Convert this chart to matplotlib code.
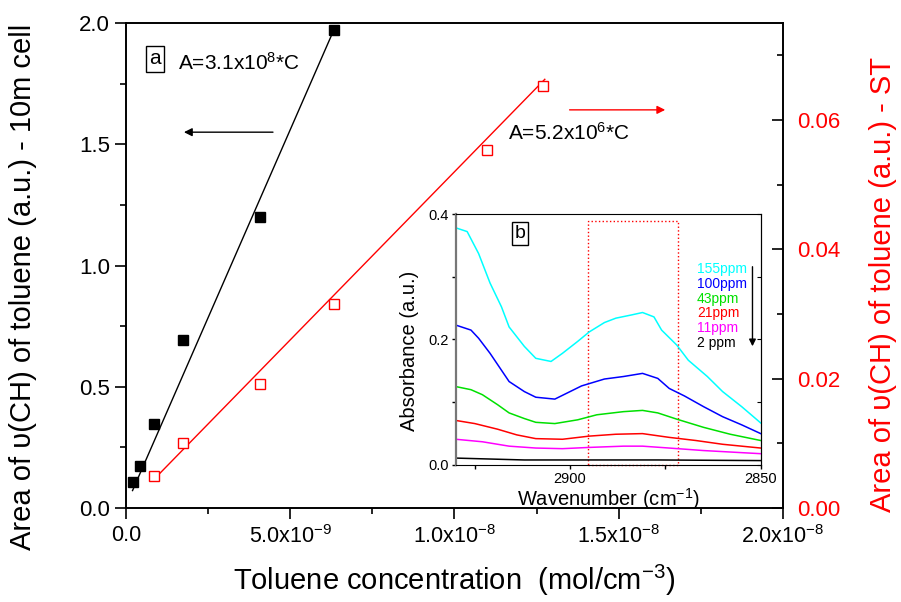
import numpy as np
import matplotlib
matplotlib.use("Agg")
import matplotlib.pyplot as plt
from matplotlib.patches import Rectangle
from matplotlib.ticker import MultipleLocator

plt.rcParams['font.family'] = ['Liberation Sans', 'DejaVu Sans']
plt.rcParams['mathtext.default'] = 'regular'

# --- main plot data (concentration in mol/cm^3) ---
conc_cell = [0.21e-9, 0.44e-9, 0.84e-9, 1.74e-9, 4.07e-9, 6.33e-9]
area_cell = [0.107, 0.173, 0.345, 0.693, 1.20, 1.97]

conc_st = [0.84e-9, 1.74e-9, 4.07e-9, 6.33e-9, 11.0e-9, 12.69e-9]
area_st = [0.0050, 0.0100, 0.0192, 0.0315, 0.0553, 0.0653]

# linear fits
fit_cell_slope, fit_cell_icpt = 3.1e8, 0.01
fit_cell_range = [0.2e-9, 6.35e-9]
fit_st_slope, fit_st_icpt = 5.2e6, 0.0
fit_st_range = [0.84e-9, 12.75e-9]

x_ticks = [0, 5e-9, 1e-8, 1.5e-8, 2e-8]
x_ticklabels = ['0.0', '5.0x10$^{-9}$', '1.0x10$^{-8}$', '1.5x10$^{-8}$', '2.0x10$^{-8}$']

# --- inset spectra (wavenumber cm-1, absorbance) ---
wn_155 = [2930, 2927, 2924, 2921, 2918, 2916, 2912, 2909, 2905, 2902, 2898, 2895, 2891,
          2888, 2884, 2881, 2878, 2876, 2872, 2869, 2864, 2860, 2855, 2850]
ab_155 = [0.378, 0.372, 0.337, 0.290, 0.252, 0.220, 0.189, 0.170, 0.165, 0.178, 0.197, 0.212,
          0.227, 0.234, 0.239, 0.243, 0.236, 0.215, 0.191, 0.167, 0.141, 0.117, 0.093, 0.067]
wn_100 = [2930, 2926, 2924, 2921, 2918, 2916, 2912, 2909, 2904, 2900, 2897, 2891, 2886,
          2881, 2877, 2874, 2870, 2865, 2860, 2855, 2850]
ab_100 = [0.223, 0.215, 0.202, 0.178, 0.151, 0.133, 0.117, 0.108, 0.105, 0.117, 0.126, 0.137,
          0.141, 0.146, 0.138, 0.122, 0.110, 0.093, 0.077, 0.064, 0.050]
wn_43 = [2930, 2926, 2923, 2919, 2916, 2912, 2909, 2904, 2898, 2893, 2886, 2881, 2877,
         2872, 2865, 2858, 2850]
ab_43 = [0.125, 0.120, 0.112, 0.096, 0.083, 0.074, 0.068, 0.066, 0.072, 0.080, 0.085, 0.087,
         0.083, 0.073, 0.060, 0.049, 0.039]
wn_21 = [2930, 2925, 2919, 2914, 2909, 2902, 2895, 2888, 2881, 2874, 2867, 2860, 2850]
ab_21 = [0.071, 0.066, 0.057, 0.048, 0.042, 0.041, 0.046, 0.049, 0.050, 0.044, 0.039, 0.033, 0.027]
wn_11 = [2930, 2923, 2916, 2909, 2902, 2895, 2886, 2881, 2874, 2865, 2850]
ab_11 = [0.041, 0.037, 0.030, 0.027, 0.026, 0.028, 0.030, 0.030, 0.027, 0.023, 0.018]
wn_2 = [2930, 2912, 2895, 2877, 2850]
ab_2 = [0.011, 0.008, 0.008, 0.008, 0.007]

spectra = [(wn_155, ab_155, '155ppm', '#00ffff'),
           (wn_100, ab_100, '100ppm', '#0000ff'),
           (wn_43, ab_43, '43ppm', '#00e000'),
           (wn_21, ab_21, '21ppm', '#ff0000'),
           (wn_11, ab_11, '11ppm', '#ff00ff'),
           (wn_2, ab_2, '2 ppm', '#000000')]

band_lo, band_hi, band_top = 2871.6, 2895.3, 0.389

fig = plt.figure(figsize=(9.01, 6.02), dpi=100)
ax = fig.add_axes([0.1398, 0.1561, 0.7292, 0.8056])
ax2 = ax.twinx()

# black: 10 m cell
fx = np.array(fit_cell_range)
ax.plot(fx, fit_cell_slope * fx + fit_cell_icpt, color='black', lw=1)
ax.plot(conc_cell, area_cell, 's', color='black', ms=6.5, clip_on=False)

# red: ST
fx2 = np.array(fit_st_range)
ax2.plot(fx2, fit_st_slope * fx2 + fit_st_icpt, color='red', lw=1)
ax2.plot(conc_st, area_st, 's', mfc='white', mec='red', mew=1, ms=6.5, clip_on=False)

ax.set_xlim(0, 2e-8)
ax.set_ylim(0, 2.0)
ax2.set_ylim(0, 0.075)

ax.set_xticks(x_ticks)
ax.set_xticklabels(x_ticklabels)
ax.xaxis.set_minor_locator(MultipleLocator(2.5e-9))
ax.yaxis.set_major_locator(MultipleLocator(0.5))
ax.yaxis.set_minor_locator(MultipleLocator(0.25))
ax.yaxis.set_major_formatter(plt.FormatStrFormatter('%.1f'))
ax2.yaxis.set_major_locator(MultipleLocator(0.02))
ax2.yaxis.set_minor_locator(MultipleLocator(0.01))
ax2.yaxis.set_major_formatter(plt.FormatStrFormatter('%.2f'))

ax.tick_params(axis='both', which='major', direction='out', length=8, width=1.2,
               labelsize=15.5, top=False, right=False)
ax.tick_params(axis='y', labelsize=16)
ax.tick_params(axis='both', which='minor', direction='out', length=4, width=1.2,
               top=False, right=False)
ax.tick_params(axis='x', pad=4)
ax2.tick_params(axis='y', which='major', direction='in', length=8, width=1.2,
                labelsize=16, labelcolor='red', pad=10)
ax2.tick_params(axis='y', which='minor', direction='in', length=4, width=1.2)
for a in (ax, ax2):
    for s in a.spines.values():
        s.set_linewidth(1.2)

ax.set_xlabel('Toluene concentration  (mol/cm$^{-3}$)', fontsize=21)
ax.xaxis.set_label_coords(0.5, -0.113)
ax.set_ylabel('Area of \u03c5(CH) of toluene (a.u.) - 10m cell', fontsize=21)
ax.yaxis.set_label_coords(-0.135, 0.455)
ax2.set_ylabel('Area of \u03c5(CH) of toluene (a.u.) - ST', fontsize=21, color='red')
ax2.yaxis.set_label_coords(1.131, 0.46)

# annotations
ax.text(0.044, 0.926, 'a', transform=ax.transAxes, fontsize=15, ha='center', va='center',
        bbox=dict(boxstyle='square,pad=0.15', fc='white', ec='black', lw=1))
ax.text(0.079, 0.918, 'A=3.1x10$^{8}$*C', transform=ax.transAxes, fontsize=15, va='center')
ax.text(0.581, 0.773, 'A=5.2x10$^{6}$*C', transform=ax.transAxes, fontsize=15, va='center')
ax.annotate('', xy=(0.084, 0.775), xytext=(0.228, 0.775), xycoords='axes fraction',
            arrowprops=dict(arrowstyle='-|>', color='black', lw=1, mutation_scale=12))
ax.annotate('', xy=(0.825, 0.821), xytext=(0.671, 0.821), xycoords='axes fraction',
            arrowprops=dict(arrowstyle='-|>', color='red', lw=1, mutation_scale=12))

# --- inset ---
axi = fig.add_axes([0.5058, 0.2276, 0.3385, 0.4169])
axi.set_facecolor('white')
for wn, ab, lab, col in spectra:
    axi.plot(wn, ab, color=col, lw=1.1)
axi.set_xlim(2930, 2850)
axi.set_ylim(0, 0.4)
axi.set_xticks([2900, 2850])
axi.xaxis.set_minor_locator(MultipleLocator(25))
axi.yaxis.set_major_locator(MultipleLocator(0.2))
axi.yaxis.set_minor_locator(MultipleLocator(0.1))
axi.yaxis.set_major_formatter(plt.FormatStrFormatter('%.1f'))
axi.tick_params(axis='both', which='both', direction='out', length=3, width=1,
                labelsize=10.5, top=False, right=False, pad=2)
axi.spines['left'].set_color('#777777')
axi.spines['left'].set_linewidth(1.6)
sec = axi.secondary_yaxis('right')
sec.yaxis.set_major_locator(MultipleLocator(0.1))
sec.tick_params(direction='in', length=3, labelright=False)
axi.set_xlabel('Wavenumber (cm$^{-1}$)', fontsize=14.5)
axi.xaxis.set_label_coords(0.5, -0.085)
axi.set_ylabel('Absorbance (a.u.)', fontsize=14.5)
axi.yaxis.set_label_coords(-0.12, 0.454)

axi.add_patch(Rectangle((band_hi, 0), band_lo - band_hi, band_top, fill=False,
                        ec='red', lw=1, ls=':', clip_on=False))
axi.text(0.211, 0.924, 'b', transform=axi.transAxes, fontsize=14, ha='center', va='center',
         bbox=dict(boxstyle='square,pad=0.15', fc='white', ec='black', lw=1))
for i, (wn, ab, lab, col) in enumerate(spectra):
    axi.text(0.791, 0.781 - i * 0.059, lab, transform=axi.transAxes, color=col,
             fontsize=10, va='center')
axi.annotate('', xy=(0.973, 0.462), xytext=(0.973, 0.801), xycoords='axes fraction',
             arrowprops=dict(arrowstyle='-|>', color='black', lw=1, mutation_scale=10))

fig.savefig('out.png', dpi=100)
